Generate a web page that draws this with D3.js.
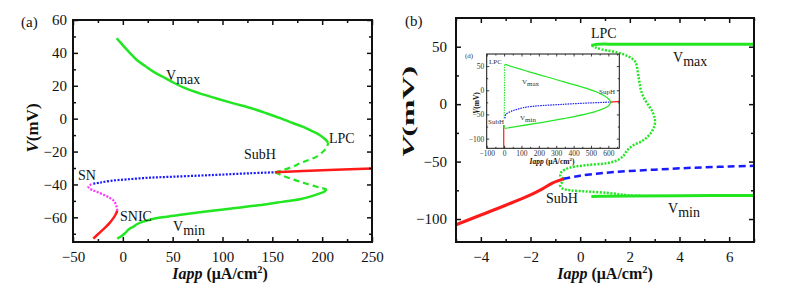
<!DOCTYPE html>
<html>
<head>
<meta charset="utf-8">
<script src="https://cdn.jsdelivr.net/npm/d3@7"></script>
<style>
  body { margin: 0; background: #fff; }
  svg text { font-family: "Liberation Serif", "Times New Roman", serif; }
</style>
</head>
<body>
<div id="chart"></div>
<script>
// ---- panel (a) branches, [Iapp, V] ----
var aRedLow = [[-29.6,-73],[-24.5,-70],[-20,-67.5],[-16.5,-65.5],[-13,-63.2],[-9.5,-60.5],[-7,-58],[-5.6,-56]];
var aSaddle = [[-5.6,-56],[-6.5,-53],[-9,-50],[-13,-48.2],[-18,-46.6],[-24,-45],[-30,-43.6],[-33.8,-42.2],[-34.5,-41.2],[-32.5,-40.2],[-29.6,-39.5]];
var aUnstableEq = [[-29.6,-39.5],[-23,-38.9],[-12,-37.8],[4,-36.9],[27,-35.9],[50,-35.3],[77,-34.6],[100,-34],[127,-33.2],[152.6,-32.6]];
var aRedHigh = [[152.6,-32.6],[200,-31.4],[250,-30.3]];
var aUlcUp = [[152.6,-32.6],[161,-31.2],[170,-29.3],[178,-27.1],[187,-25],[194.4,-23.1],[201,-20],[204.5,-17.5],[206,-14.6]];
var aUlcLow = [[152.6,-32.6],[161,-34.8],[170,-36.8],[177.7,-38.3],[186,-39.9],[194.4,-41.4],[200,-42.2],[204.4,-43]];
var aVmax = [[206,-14.6],[203,-12.5],[197,-9.8],[191,-7.9],[181,-5],[171,-2.8],[158,0.3],[144,3.3],[128,6.5],[111,9.3],[94,12.3],[77,15.4],[62,18.7],[50.6,22],[40,25.5],[30.6,28.6],[22,32.2],[14,35.7],[7,40],[1,44],[-6.2,48.9]];
var aVmin = [[204.4,-43],[202,-44.4],[197.7,-45.4],[188,-47.4],[177.7,-49],[160,-50.6],[144.3,-52],[127,-53.3],[110.8,-54.5],[94,-55.7],[77.4,-56.9],[60,-58.3],[44,-59.6],[30,-61],[20.5,-62.6],[14,-64.2],[10.5,-65.7],[6,-67.3],[2.2,-69.7],[-1.5,-71.5],[-5.6,-73]];

// ---- panel (b) branches ----
var bRed = [[-5,-105],[-4,-96.5],[-3,-88],[-2,-79],[-1.5,-73.5],[-1.1,-68.5],[-0.68,-65]];
var bUnstableEq = [[-0.68,-65],[0,-62.3],[1,-59.8],[2,-58.2],[3,-57],[4,-55.9],[5,-55],[6,-54.3],[7,-53.7]];
var bUlcUp = [[-0.68,-65],[-0.8,-62],[-0.75,-59],[-0.45,-55.5],[0.2,-53.2],[1.07,-51.4],[1.5,-48.8],[1.74,-45],[1.9,-40],[2.14,-35.8],[2.54,-31.5],[2.85,-25],[3.0,-18],[3.0,-12],[2.9,-6],[2.78,-2],[2.6,4],[2.45,12],[2.38,20],[2.32,28],[2.22,37],[1.95,41.5],[1.5,45],[0.9,47.5],[0.6,49.5],[0.45,51.2]];
var bUlcLow = [[-0.68,-65],[-0.7,-67.3],[-0.81,-70.5],[-0.7,-73.5],[-0.4,-75],[0.26,-76],[1.07,-77.2],[1.6,-78.5],[2.0,-79.5],[2.5,-79.8]];
var bVmax = [[0.45,51.2],[0.7,52.1],[1.5,52.2],[7,52.1]];
var bVmin = [[0.45,-80.3],[1,-80.1],[2,-79.9],[4,-79.7],[7,-79.5]];

// ---- inset (d) ----
var dRedLow = [[-2,-120],[-2,-72]];
var dGreenShort = [[0,-72],[0,-79]];
var dUlc = [[3,53.4],[3,20],[2,-20],[1,-45],[0,-60]];
var dVmax = [[5.4,53.4],[149,37.6],[341,17.8],[533,-3.7],[600,-17.4],[614,-24.4]];
var dVmin = [[5.4,-78.7],[341,-58.7],[533,-43],[600,-32.6],[614,-24.4]];
var dUnstableEq = [[5,-58],[10,-50],[24,-46.3],[111,-36],[341,-29],[614,-24.4]];
var dRedHigh = [[614,-24.4],[663,-23]];

var aXTicks = [-50, 0, 50, 100, 150, 200, 250], aYTicks = [-60, -40, -20, 0, 20, 40, 60];
var bXTicks = [-4, -2, 0, 2, 4, 6], bYTicks = [-100, -50, 0, 50];
var dXTicks = [-100, 0, 100, 200, 300, 400, 500, 600], dYTicks = [-100, -50, 0, 50];

var GREEN = "#22e622", RED = "#ff1a1a", BLUE = "#1a1aff", MAG = "#ff33ff";
var SERIF = "'Liberation Serif', 'Times New Roman', serif";

var svg = d3.select("#chart").append("svg")
    .attr("width", 796)
    .attr("height", 291)
    .attr("font-family", SERIF);

function frame(g, x, y, opt) {
    var xr = x.range(), yr = y.range();
    var h = yr[0] - yr[1], w = xr[1] - xr[0];
    var fmt = function(d) { return d3.format("")(d); };

    var axes = [
        [d3.axisBottom(x).tickValues(opt.xt).tickSizeInner(-opt.big).tickPadding(opt.padX).tickFormat(fmt), 0, yr[0]],
        [d3.axisBottom(x).tickValues(opt.xm).tickSizeInner(-opt.small).tickFormat(""), 0, yr[0]],
        [d3.axisTop(x).tickValues(opt.xt).tickSizeInner(-opt.big).tickFormat(""), 0, yr[1]],
        [d3.axisTop(x).tickValues(opt.xm).tickSizeInner(-opt.small).tickFormat(""), 0, yr[1]],
        [d3.axisLeft(y).tickValues(opt.yt).tickSizeInner(-opt.big).tickPadding(opt.padY).tickFormat(fmt), xr[0], 0],
        [d3.axisLeft(y).tickValues(opt.ym).tickSizeInner(-opt.small).tickFormat(""), xr[0], 0],
        [d3.axisRight(y).tickValues(opt.yt).tickSizeInner(-opt.big).tickFormat(""), xr[1], 0],
        [d3.axisRight(y).tickValues(opt.ym).tickSizeInner(-opt.small).tickFormat(""), xr[1], 0]
    ];
    axes.forEach(function(a) {
        g.append("g")
            .attr("transform", "translate(" + a[1] + "," + a[2] + ")")
            .call(a[0].tickSizeOuter(0))
            .attr("font-family", SERIF)
            .attr("font-size", opt.fs);
    });

    g.selectAll(".domain").remove();
    g.selectAll(".tick line").attr("stroke", "#111").attr("stroke-width", opt.tw);
    g.selectAll(".tick text")
        .style("font-family", SERIF)
        .style("font-size", opt.fs + "px")
        .attr("fill", opt.tc || "#111");

    g.append("rect")
        .attr("x", xr[0]).attr("y", yr[1])
        .attr("width", w).attr("height", h)
        .attr("fill", "none").attr("stroke", "#111").attr("stroke-width", opt.sw);
}

function curve(g, x, y, data, color, width, dash) {
    var line = d3.line()
        .x(function(d) { return x(d[0]); })
        .y(function(d) { return y(d[1]); })
        .curve(d3.curveCatmullRom.alpha(0.5));
    g.append("path")
        .datum(data)
        .attr("d", line)
        .attr("fill", "none")
        .attr("stroke", color)
        .attr("stroke-width", width)
        .attr("stroke-dasharray", dash || null)
        .attr("stroke-linecap", "butt");
}

function label(g, xp, yp, main, sub, size, color) {
    var t = g.append("text").attr("x", xp).attr("y", yp)
        .style("font-size", size + "px").attr("fill", color || "#111");
    t.append("tspan").text(main);
    if (sub) t.append("tspan").attr("dy", size * 0.3).text(sub);
}

function xTitle(g, cx, yp, size) {
    var t = g.append("text").attr("x", cx).attr("y", yp)
        .attr("text-anchor", "middle")
        .style("font-size", size + "px").style("font-weight", "bold").attr("fill", "#111");
    t.append("tspan").style("font-style", "italic").text("Iapp");
    t.append("tspan").text(" (μA/cm");
    t.append("tspan").attr("dy", -size * 0.4).style("font-size", (size * 0.65) + "px").text("2");
    t.append("tspan").attr("dy", size * 0.4).text(")");
}

function yTitle(g, xp, cy, size, len) {
    var t = g.append("text")
        .attr("transform", "translate(" + xp + "," + cy + ") rotate(-90)")
        .attr("text-anchor", "middle")
        .style("font-size", size + "px").style("font-weight", "bold").attr("fill", "#111");
    if (len) t.attr("textLength", len).attr("lengthAdjust", "spacingAndGlyphs");
    t.append("tspan").style("font-style", "italic").text("V");
    t.append("tspan").text("(mV)");
}

// ---------- panel (a) ----------
var ax = d3.scaleLinear().domain([-50, 250]).range([73, 372]);
var ay = d3.scaleLinear().domain([-75, 60]).range([242, 20]);
var ga = svg.append("g");

curve(ga, ax, ay, aVmax, GREEN, 2.5);
curve(ga, ax, ay, aVmin, GREEN, 2.5);
curve(ga, ax, ay, aUlcUp, GREEN, 2.2, "6,4");
curve(ga, ax, ay, aUlcLow, GREEN, 2.2, "6,4");
curve(ga, ax, ay, aUnstableEq, BLUE, 2.2, "2,1.5");
curve(ga, ax, ay, aSaddle, MAG, 2.2, "2,1.5");
curve(ga, ax, ay, aRedLow, RED, 2.5);
curve(ga, ax, ay, aRedHigh, RED, 2.5);

frame(ga, ax, ay, {
    xt: aXTicks, xm: [-25, 25, 75, 125, 175, 225],
    yt: aYTicks, ym: [-70, -50, -30, -10, 10, 30, 50],
    big: 5, small: 3, padX: 9, padY: 6, fs: 15, tw: 1.5, sw: 2
});

label(ga, 166, 80, "V", "max", 14);
label(ga, 329, 143, "LPC", null, 14);
label(ga, 244, 159, "SubH", null, 14);
label(ga, 78, 180, "SN", null, 14);
label(ga, 120, 221, "SNIC", null, 14);
label(ga, 173, 231, "V", "min", 14);
label(ga, 21, 27, "(a)", null, 15);
xTitle(ga, 220, 279, 16);
yTitle(ga, 38, 128, 17);

// ---------- panel (b) ----------
var bx = d3.scaleLinear().domain([-5, 7]).range([456, 754]);
var by = d3.scaleLinear().domain([-120, 75]).range([242, 18]);
var gb = svg.append("g");

curve(gb, bx, by, bUlcUp, GREEN, 2.5, "2,1.5");
curve(gb, bx, by, bUlcLow, GREEN, 2.5, "2,1.5");
curve(gb, bx, by, bVmax, GREEN, 3);
curve(gb, bx, by, bVmin, GREEN, 3);
curve(gb, bx, by, bUnstableEq, BLUE, 2.5, "7,4");
curve(gb, bx, by, bRed, RED, 3);

frame(gb, bx, by, {
    xt: bXTicks, xm: [-5, -3, -1, 1, 3, 5, 7],
    yt: bYTicks, ym: [-75, -25, 25],
    big: 5, small: 3, padX: 9, padY: 9, fs: 15, tw: 1.5, sw: 2
});

label(gb, 591, 38, "LPC", null, 14);
label(gb, 673, 62, "V", "max", 14);
label(gb, 546, 203, "SubH", null, 14);
label(gb, 668, 213, "V", "min", 14);
label(gb, 405, 26, "(b)", null, 15);
xTitle(gb, 605, 279, 16);
yTitle(gb, 414, 112, 17, 92);

// ---------- inset (d) ----------
var dx = d3.scaleLinear().domain([-100, 663]).range([486.7, 619.3]);
var dy = d3.scaleLinear().domain([-120, 75]).range([148.3, 54]);
var gd = svg.append("g");

gd.append("rect")
    .attr("x", 486.7).attr("y", 54)
    .attr("width", 619.3 - 486.7).attr("height", 148.3 - 54)
    .attr("fill", "#fff");

curve(gd, dx, dy, dUlc, GREEN, 1, "1.5,1");
curve(gd, dx, dy, dVmax, GREEN, 1.2);
curve(gd, dx, dy, dVmin, GREEN, 1.2);
curve(gd, dx, dy, dUnstableEq, BLUE, 1.2, "1.5,1");
curve(gd, dx, dy, dRedLow, RED, 1.2);
curve(gd, dx, dy, dGreenShort, GREEN, 1.2);
curve(gd, dx, dy, dRedHigh, RED, 1.2);

frame(gd, dx, dy, {
    xt: dXTicks, xm: [-50, 50, 150, 250, 350, 450, 550, 650],
    yt: dYTicks, ym: [-75, -25, 25],
    big: 2.5, small: 1.5, padX: 2.5, padY: 2.5, fs: 7.5, tw: 0.8, sw: 1, tc: "#333"
});

label(gd, 489, 64, "LPC", null, 7, "#333");
label(gd, 522, 84, "V", "max", 7, "#333");
label(gd, 599, 94, "SupH", null, 7, "#333");
label(gd, 488, 124, "SubH", null, 7, "#333");
label(gd, 520, 120, "V", "min", 7, "#333");
label(gd, 465, 58, "(d)", null, 7, "#333");

xTitle(gd, 552, 164, 7.5);
yTitle(gd, 479, 103, 7.5);
</script>
</body>
</html>
